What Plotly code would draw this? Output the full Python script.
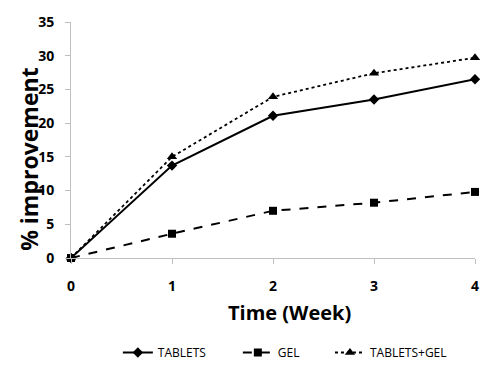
import plotly.graph_objects as go

weeks = [0, 1, 2, 3, 4]
tablets = [0, 13.7, 21.1, 23.5, 26.5]
gel = [0, 3.6, 7.0, 8.2, 9.8]
tablets_gel = [0, 15.0, 23.9, 27.4, 29.7]

fig = go.Figure()
fig.add_trace(go.Scatter(x=weeks, y=tablets, name="TABLETS", mode="lines+markers",
                         line=dict(color="black", width=2, dash="solid"),
                         marker=dict(symbol="diamond", size=8, color="black"),
                         legend="legend", showlegend=True))
fig.add_trace(go.Scatter(x=weeks, y=gel, name="GEL", mode="lines+markers",
                         line=dict(color="black", width=2, dash="dash"),
                         marker=dict(symbol="square", size=8, color="black"),
                         legend="legend2", showlegend=True))
fig.add_trace(go.Scatter(x=weeks, y=tablets_gel, name="TABLETS+GEL", mode="lines+markers",
                         line=dict(color="black", width=1.8, dash="dot"),
                         marker=dict(symbol="triangle-up", size=9, color="black"),
                         legend="legend3", showlegend=True))

tick_font = dict(family="Open Sans", size=14, color="black", weight="bold")
leg_font = dict(family="Open Sans", size=12, color="black")
leg_y = -0.339

fig.update_layout(
    width=500, height=368,
    showlegend=True,
    paper_bgcolor="white", plot_bgcolor="white",
    margin=dict(l=71, r=25, t=22, b=110, autoexpand=False),
    font=dict(family="Open Sans", color="black"),
    xaxis=dict(range=[0, 4], tickvals=weeks, showgrid=False, zeroline=False,
               showline=True, linecolor="#bfbfbf", linewidth=1,
               ticks="outside", ticklen=5, tickcolor="#bfbfbf",
               tickfont=tick_font, ticklabelstandoff=10, automargin=False),
    yaxis=dict(range=[0, 35], dtick=5, showgrid=False, zeroline=False,
               showline=True, linecolor="#bfbfbf", linewidth=1,
               ticks="outside", ticklen=5, tickcolor="#bfbfbf",
               tickfont=tick_font, ticklabelstandoff=8, automargin=False),
    legend=dict(orientation="h", x=0.116, xanchor="left", y=leg_y, yanchor="top", font=leg_font),
    legend2=dict(orientation="h", x=0.413, xanchor="left", y=leg_y, yanchor="top", font=leg_font),
    legend3=dict(orientation="h", x=0.641, xanchor="left", y=leg_y, yanchor="top", font=leg_font),
    annotations=[
        dict(text="% improvement", textangle=-90, xref="paper", yref="paper",
             x=-0.104, y=0.42, xanchor="center", yanchor="middle", showarrow=False,
             font=dict(family="Open Sans", size=23, weight="bold", color="black")),
        dict(text="Time (Week)", xref="paper", yref="paper",
             x=0.542, y=-0.233, xanchor="center", yanchor="middle", showarrow=False,
             font=dict(family="Open Sans", size=20, weight="bold", color="black")),
    ],
)
for tr in fig.data:
    tr.cliponaxis = False

fig.write_html("out.html", config={"displayModeBar": False},
               post_script="document.body.style.margin='0';document.body.style.overflow='hidden';")
